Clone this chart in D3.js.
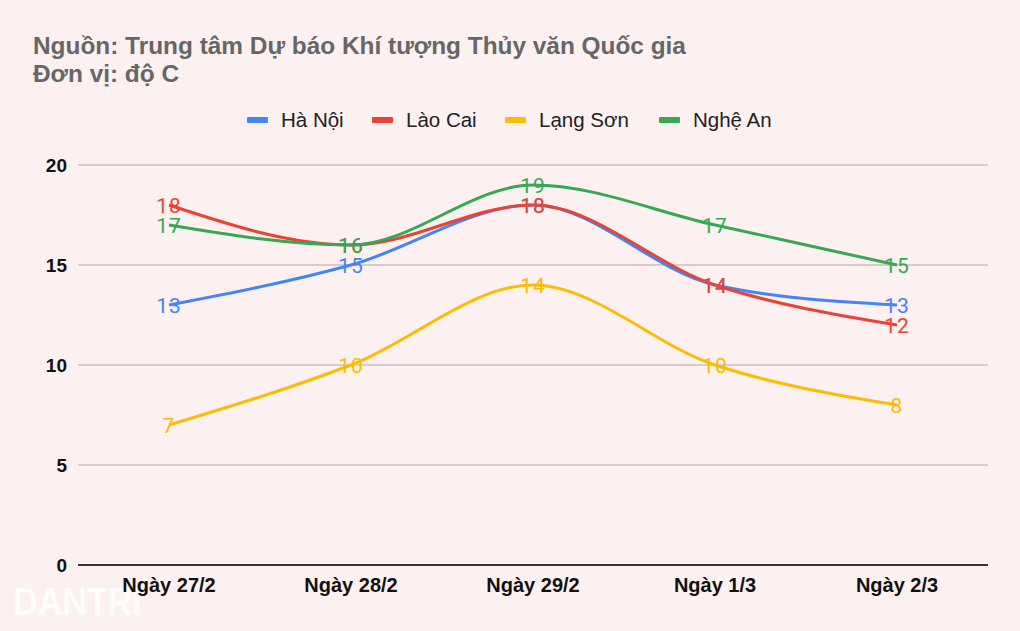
<!DOCTYPE html>
<html><head><meta charset="utf-8">
<script src="https://cdn.jsdelivr.net/npm/d3@7"></script>
<style>
html,body{margin:0;padding:0;background:#fdf0f0;}
svg{display:block;}
</style></head><body>
<svg id="chart" width="1020" height="631"></svg>
<script>
const categories = ["Ngày 27/2","Ngày 28/2","Ngày 29/2","Ngày 1/3","Ngày 2/3"];
const seriesNames = ["Hà Nội","Lào Cai","Lạng Sơn","Nghệ An"];
const haNoi   = [13,15,18,14,13];
const laoCai  = [18,16,18,14,12];
const langSon = [7,10,14,10,8];
const ngheAn  = [17,16,19,17,15];
const yTicks = [0,5,10,15,20];
const colors = ["#4285f4","#ea4335","#fbbc04","#34a853"];
const titleLines = ["Nguồn: Trung tâm Dự báo Khí tượng Thủy văn Quốc gia","Đơn vị: độ C"];

const series = [haNoi, laoCai, langSon, ngheAn].map((v,i)=>({name:seriesNames[i], values:v, color:colors[i]}));

const svg = d3.select("#chart");
svg.append("rect").attr("width",1020).attr("height",631).attr("fill","#fdf0f0");

const pLeft=78, pRight=988, pTop=165, pBottom=565;
const x = d3.scaleBand().domain(categories).range([pLeft,pRight]);
const y = d3.scaleLinear().domain([0,20]).range([pBottom,pTop]);

// watermark
svg.append("text").attr("x",13).attr("y",615).attr("fill","#ffffff").attr("font-family","Liberation Sans, Arial, sans-serif")
  .attr("font-weight","bold").attr("font-size",39).attr("textLength",129).attr("lengthAdjust","spacingAndGlyphs")
  .attr("opacity",0.8).text("DANTRI");

// title
svg.selectAll("text.title").data(titleLines).join("text").attr("class","title")
  .attr("x",33).attr("y",(d,i)=>54+i*28)
  .attr("fill","#666").attr("font-family","Liberation Sans, Arial, sans-serif").attr("font-weight","bold").attr("font-size",24.4)
  .text(d=>d);

// grid
svg.append("g").selectAll("line").data(yTicks.filter(d=>d>0)).join("line")
  .attr("x1",pLeft).attr("x2",pRight).attr("y1",d=>y(d)).attr("y2",d=>y(d))
  .attr("stroke","#c9c2c2").attr("stroke-width",1.5);

// y axis
const yAxis = d3.axisLeft(y).tickValues(yTicks).tickSize(0).tickPadding(11);
const gy = svg.append("g").attr("transform",`translate(${pLeft},0)`).call(yAxis);
gy.select(".domain").remove();
gy.selectAll("text").attr("font-family","Liberation Sans, Arial, sans-serif").attr("font-weight","bold").attr("font-size",19).attr("fill","#111");

// baseline
svg.append("line").attr("x1",pLeft).attr("x2",pRight).attr("y1",y(0)).attr("y2",y(0)).attr("stroke","#333").attr("stroke-width",2);

// x axis
const xAxis = d3.axisBottom(x).tickSize(0).tickPadding(13);
const gx = svg.append("g").attr("transform",`translate(0,${pBottom})`).call(xAxis);
gx.select(".domain").remove();
gx.selectAll("text").attr("font-family","Liberation Sans, Arial, sans-serif").attr("font-weight","bold").attr("font-size",20).attr("fill","#111");

const px = d=>x(d)+x.bandwidth()/2;
const line = d3.line().x((d,i)=>px(categories[i])).y(d=>y(d)).curve(d3.curveMonotoneX);

svg.append("g").selectAll("path").data(series).join("path")
  .attr("d",d=>line(d.values)).attr("fill","none").attr("stroke",d=>d.color).attr("stroke-width",3);

// labels
const lg = svg.append("g");
series.forEach(s=>{
  lg.append("g").selectAll("text").data(s.values).join("text")
    .attr("x",(d,i)=>px(categories[i])).attr("y",d=>y(d)).attr("dy","0.36em")
    .attr("text-anchor","middle").attr("fill",s.color)
    .attr("font-family","Roboto, sans-serif").attr("font-size",21).attr("letter-spacing",1)
    .text(d=>d);
});

// legend
const legendX = [247,372,505,659];
const leg = svg.append("g").selectAll("g").data(series).join("g")
  .attr("transform",(d,i)=>`translate(${legendX[i]},120)`);
leg.append("rect").attr("x",0).attr("y",-3).attr("width",21).attr("height",6).attr("rx",1).attr("fill",d=>d.color);
leg.append("text").attr("x",34).attr("dy","0.36em").attr("fill","#222")
  .attr("font-family","Liberation Sans, Arial, sans-serif").attr("font-size",20.5).text(d=>d.name);
</script>
</body></html>
